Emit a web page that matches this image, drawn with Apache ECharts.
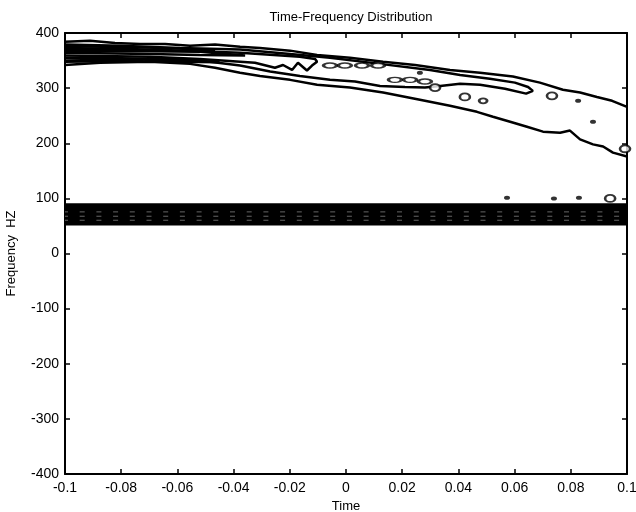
<!DOCTYPE html>
<html><head><meta charset="utf-8">
<script src="https://cdn.jsdelivr.net/npm/echarts@6/dist/echarts.min.js"></script>
<style>html,body{margin:0;padding:0;background:#fff}#c{width:636px;height:512px}</style>
</head><body><div id="c"></div><script>
// axis ranges / ticks
const timeRange = [-0.1, 0.1];
const timeStep = 0.02;
const freqRange = [-400, 400];
const freqStep = 100;
const titleText = 'Time-Frequency Distribution';
const xName = 'Time';
const yName = 'Frequency  HZ';

// chirp contours [time, frequency]
const contourA1 = [[-0.1,384],[-0.0911,386],[-0.0822,382],[-0.0733,380],[-0.0644,380],[-0.0555,377],[-0.0466,379],[-0.0377,375],[-0.0306,373],[-0.0199,368],[-0.0103,360],[0.0014,355],[0.0132,348],[0.0246,342],[0.0370,333],[0.0477,328],[0.0594,321],[0.0690,310],[0.0772,297],[0.0833,292],[0.0893,284],[0.0947,277],[0.1,266]];
const contourA2 = [[-0.1,342],[-0.0875,346],[-0.0698,348],[-0.0555,344],[-0.0466,337],[-0.0377,328],[-0.0306,322],[-0.0199,315],[-0.0103,306],[0.0014,301],[0.0132,292],[0.0263,279],[0.0370,268],[0.0466,257],[0.0523,248],[0.0584,239],[0.0644,230],[0.0701,221],[0.0762,219],[0.0797,223],[0.0833,207],[0.0879,198],[0.0915,194],[0.0950,183],[0.1,176]];
const contourB = [[-0.1,379],[-0.0804,377],[-0.0591,373],[-0.0377,370],[-0.0199,362],[-0.0057,355],[0.0121,344],[0.0299,333],[0.0406,324],[0.0512,317],[0.0601,310],[0.0648,302],[0.0665,295],[0.0641,290],[0.0566,299],[0.0477,306],[0.0406,308],[0.0335,304],[0.0281,301],[0.0210,302],[0.0121,304],[0.0032,312],[-0.0057,315],[-0.0164,322],[-0.0270,330],[-0.0377,341],[-0.0520,350],[-0.0698,353],[-0.0875,351],[-0.1,350]];
const contourC = [[-0.1,373],[-0.0698,370],[-0.0377,364],[-0.0164,357],[-0.0110,353],[-0.0103,348],[-0.0121,341],[-0.0139,332],[-0.0171,346],[-0.0192,333],[-0.0224,342],[-0.0253,337],[-0.0324,346],[-0.0520,353],[-0.0698,357],[-0.1,359]];
const contourD = [[-0.1,370],[-0.0698,368],[-0.0520,366],[-0.0359,359],[-0.0520,360],[-0.0698,362],[-0.1,364]];
const contourE = [[-0.1,376],[-0.0733,374],[-0.0555,371],[-0.0466,368],[-0.0555,367],[-0.0733,367],[-0.1,367]];
const contourF = [[-0.1,355],[-0.0800,354],[-0.0600,352],[-0.0450,347],[-0.0600,348],[-0.0800,349],[-0.1,348]];

// constant tone contours (frequency levels)
const bandLevels = [53,56,59,62,65,68,71,74,77,80,83,86,89];
const bandDashLevels = [75.5, 67.6, 60.3];

// small closed contours (centres)
const islandsLong = [[-0.0057,341],[-0.0004,341],[0.0057,341],[0.0114,341],[0.0174,315],[0.0228,315],[0.0281,312]];
const islandsRound = [[0.0317,301],[0.0423,284],[0.0733,286],[0.0940,100],[0.0993,190]];
const islandsSmall = [[0.0488,277]];
const dotsFilled = [[0.0263,328],[0.0826,277],[0.0879,239],[0.0573,101],[0.0740,100],[0.0829,101]];

const FONT = 'Liberation Sans, Arial, sans-serif';
const lineS = (data, extra) => Object.assign({
  type: 'line', data: data, showSymbol: false, symbol: 'none', silent: true,
  lineStyle: { color: '#000', width: 2.5 }, clip: true, z: 2
}, extra || {});

const series = [];
bandLevels.forEach(l => series.push(lineS([[timeRange[0], l], [timeRange[1], l]], { lineStyle: { color: '#000', width: 2.4 } })));
bandDashLevels.forEach(l => series.push(lineS([[timeRange[0], l], [timeRange[1], l]], { z: 3, lineStyle: { color: '#666', width: 1, type: [5, 11.7], dashOffset: 2 } })));
[contourA1, contourA2, contourB, contourC, contourD, contourE, contourF].forEach(c => series.push(lineS(c)));
series.push({ type: 'scatter', data: islandsLong, symbol: 'circle', symbolSize: [13, 5], silent: true, clip: true, z: 4,
  itemStyle: { color: '#fff', borderColor: '#000', borderWidth: 2.2 } });
series.push({ type: 'scatter', data: islandsRound, symbol: 'circle', symbolSize: [10, 7], silent: true, clip: true, z: 4,
  itemStyle: { color: '#fff', borderColor: '#000', borderWidth: 2.2 } });
series.push({ type: 'scatter', data: islandsSmall, symbol: 'circle', symbolSize: [8, 5], silent: true, clip: true, z: 4,
  itemStyle: { color: '#fff', borderColor: '#000', borderWidth: 2.2 } });
series.push({ type: 'scatter', data: dotsFilled, symbol: 'circle', symbolSize: [6, 4], silent: true, clip: true, z: 4,
  itemStyle: { color: '#000' } });

const fmtX = v => String(+v.toFixed(2));
const baseX = {
  type: 'value', min: timeRange[0], max: timeRange[1], interval: timeStep,
  axisLine: { show: true, onZero: false, lineStyle: { color: '#000', width: 2 } },
  axisTick: { show: true, inside: true, length: 5, lineStyle: { color: '#000', width: 1.5 } },
  splitLine: { show: false }
};
const baseY = {
  type: 'value', min: freqRange[0], max: freqRange[1], interval: freqStep,
  axisLine: { show: true, onZero: false, lineStyle: { color: '#000', width: 2 } },
  axisTick: { show: true, inside: true, length: 5, lineStyle: { color: '#000', width: 1.5 } },
  splitLine: { show: false }
};

const chart = echarts.init(document.getElementById('c'), null, { renderer: 'canvas' });
chart.setOption({
  animation: false,
  backgroundColor: '#fff',
  title: { text: titleText, left: 346, top: 6, textAlign: 'center',
    textStyle: { fontFamily: FONT, fontSize: 13, fontWeight: 'normal', color: '#000' } },
  grid: { left: 65, right: 9, top: 33, bottom: 38, containLabel: false, outerBoundsMode: 'none' },
  xAxis: [
    Object.assign({}, baseX, { position: 'bottom', name: xName, nameLocation: 'middle', nameGap: 20,
      nameTextStyle: { fontFamily: FONT, fontSize: 13, color: '#000' },
      axisLabel: { formatter: fmtX, color: '#000', fontFamily: FONT, fontSize: 14, margin: 7 } }),
    Object.assign({}, baseX, { position: 'top', axisLabel: { show: false } })
  ],
  yAxis: [
    Object.assign({}, baseY, { position: 'left', name: yName, nameLocation: 'middle', nameGap: 47,
      nameTextStyle: { fontFamily: FONT, fontSize: 13, color: '#000' },
      axisLabel: { color: '#000', fontFamily: FONT, fontSize: 14, margin: 6 } }),
    Object.assign({}, baseY, { position: 'right', axisLabel: { show: false } })
  ],
  series: series
});
</script></body></html>
